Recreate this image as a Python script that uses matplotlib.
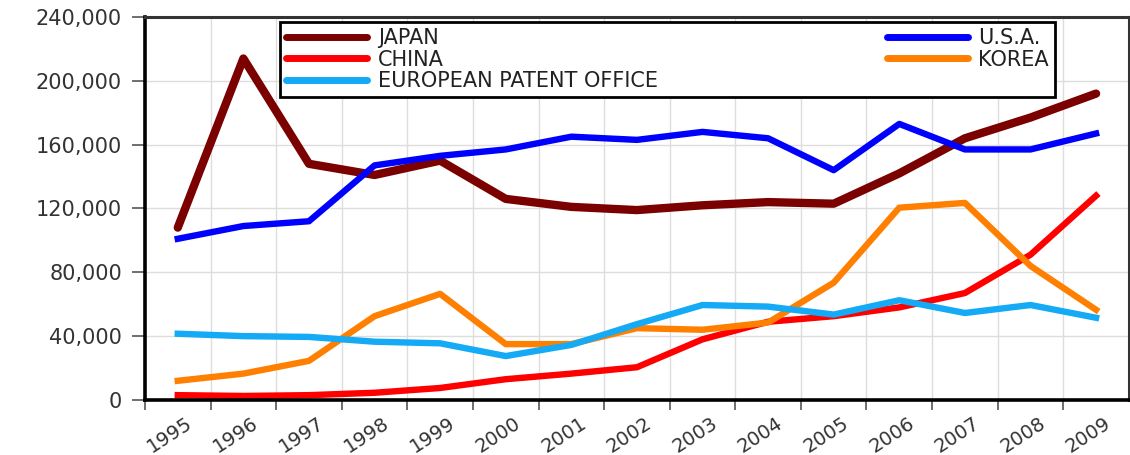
import numpy as np
import matplotlib
matplotlib.use("Agg")
import matplotlib.pyplot as plt
from matplotlib.ticker import FuncFormatter
from matplotlib.transforms import ScaledTranslation

# patent filings by office
years = [str(y) for y in range(1995, 2010)]
japan = [108000, 214000, 148000, 141000, 150000, 126000, 121000, 119000,
         122000, 124000, 123000, 142000, 164000, 177000, 192000]
usa = [101000, 109000, 112000, 147000, 153000, 157000, 165000, 163000,
       168000, 164000, 144000, 173000, 157000, 157000, 167000]
china = [3000, 2500, 3000, 4500, 7500, 13000, 16500, 20500,
         38000, 49000, 52500, 58000, 67000, 91000, 128000]
korea = [12000, 16500, 24500, 52500, 66500, 35000, 35000, 45000,
         44000, 48500, 73500, 120500, 123500, 84000, 56500]
epo = [41500, 40000, 39500, 36500, 35500, 27500, 34500, 47500,
       59500, 58500, 53500, 62500, 54500, 59500, 51500]

plt.rcParams['font.family'] = ['DejaVu Sans']

fig = plt.figure(figsize=(11.3, 4.55), dpi=100)
ax = fig.add_axes([0.1283, 0.121, 0.8707, 0.8416])

x = np.arange(len(years))
lw = 4.6
ax.plot(x, japan, color='#7b0000', lw=6.0, label='JAPAN', solid_joinstyle='round', solid_capstyle='round')
ax.plot(x, usa, color='#0000ff', lw=lw, label='U.S.A.', solid_joinstyle='round')
ax.plot(x, china, color='#ff0000', lw=lw, label='CHINA', solid_joinstyle='round')
ax.plot(x, korea, color='#ff8000', lw=lw, label='KOREA', solid_joinstyle='round')
ax.plot(x, epo, color='#14aaf5', lw=lw, label='EUROPEAN PATENT OFFICE', solid_joinstyle='round')

ax.set_xlim(-0.5, 14.5)
ax.set_ylim(0, 240000)
ax.set_yticks(np.arange(0, 240001, 40000))
ax.yaxis.set_major_formatter(FuncFormatter(lambda v, p: f'{int(v):,}'))

# tick marks on the year boundaries, labels in the middle
ax.set_xticks(np.arange(-0.5, 14.0, 1.0))
ax.set_xticklabels([])
ax.set_xticks(x, minor=True)
ax.set_xticklabels(years, minor=True, rotation=33, ha='right', va='top',
                   rotation_mode='anchor')
ax.tick_params(axis='x', which='minor', length=0, pad=10, labelsize=14, colors='#333333')
ax.tick_params(axis='x', which='major', length=7, width=1.2, color='#555555', direction='out')
ax.tick_params(axis='y', length=9.5, width=1.2, color='#555555', direction='out',
               labelsize=15, labelcolor='#333333', pad=7)
shift = ScaledTranslation(0.08, 0, fig.dpi_scale_trans)
for lab in ax.get_xticklabels(minor=True):
    lab.set_transform(lab.get_transform() + shift)

ax.grid(True, which='major', color='#dddddd', lw=1.0)
ax.set_axisbelow(True)
for side in ['left', 'bottom']:
    ax.spines[side].set_linewidth(2.6)
    ax.spines[side].set_color('black')
for side in ['top', 'right']:
    ax.spines[side].set_linewidth(2.2)
    ax.spines[side].set_color('#333333')

handles, labels = ax.get_legend_handles_labels()
order = [0, 2, 4, 1, 3]
leg = ax.legend([handles[i] for i in order], [labels[i] for i in order],
                ncol=2, loc='upper left', mode='expand',
                bbox_to_anchor=(0.137, 0.80, 0.788, 0.188),
                fontsize=15, frameon=True, fancybox=False, framealpha=1,
                handlelength=3.9, handletextpad=0.5, labelspacing=0.08,
                borderpad=0.3, borderaxespad=0.0)
leg.get_frame().set_edgecolor('black')
leg.get_frame().set_linewidth(2.0)
for line in leg.get_lines():
    line.set_linewidth(5.0)
    line.set_solid_capstyle('round')
for t in leg.get_texts():
    t.set_color('#222222')

fig.savefig('out.png', dpi=100)
